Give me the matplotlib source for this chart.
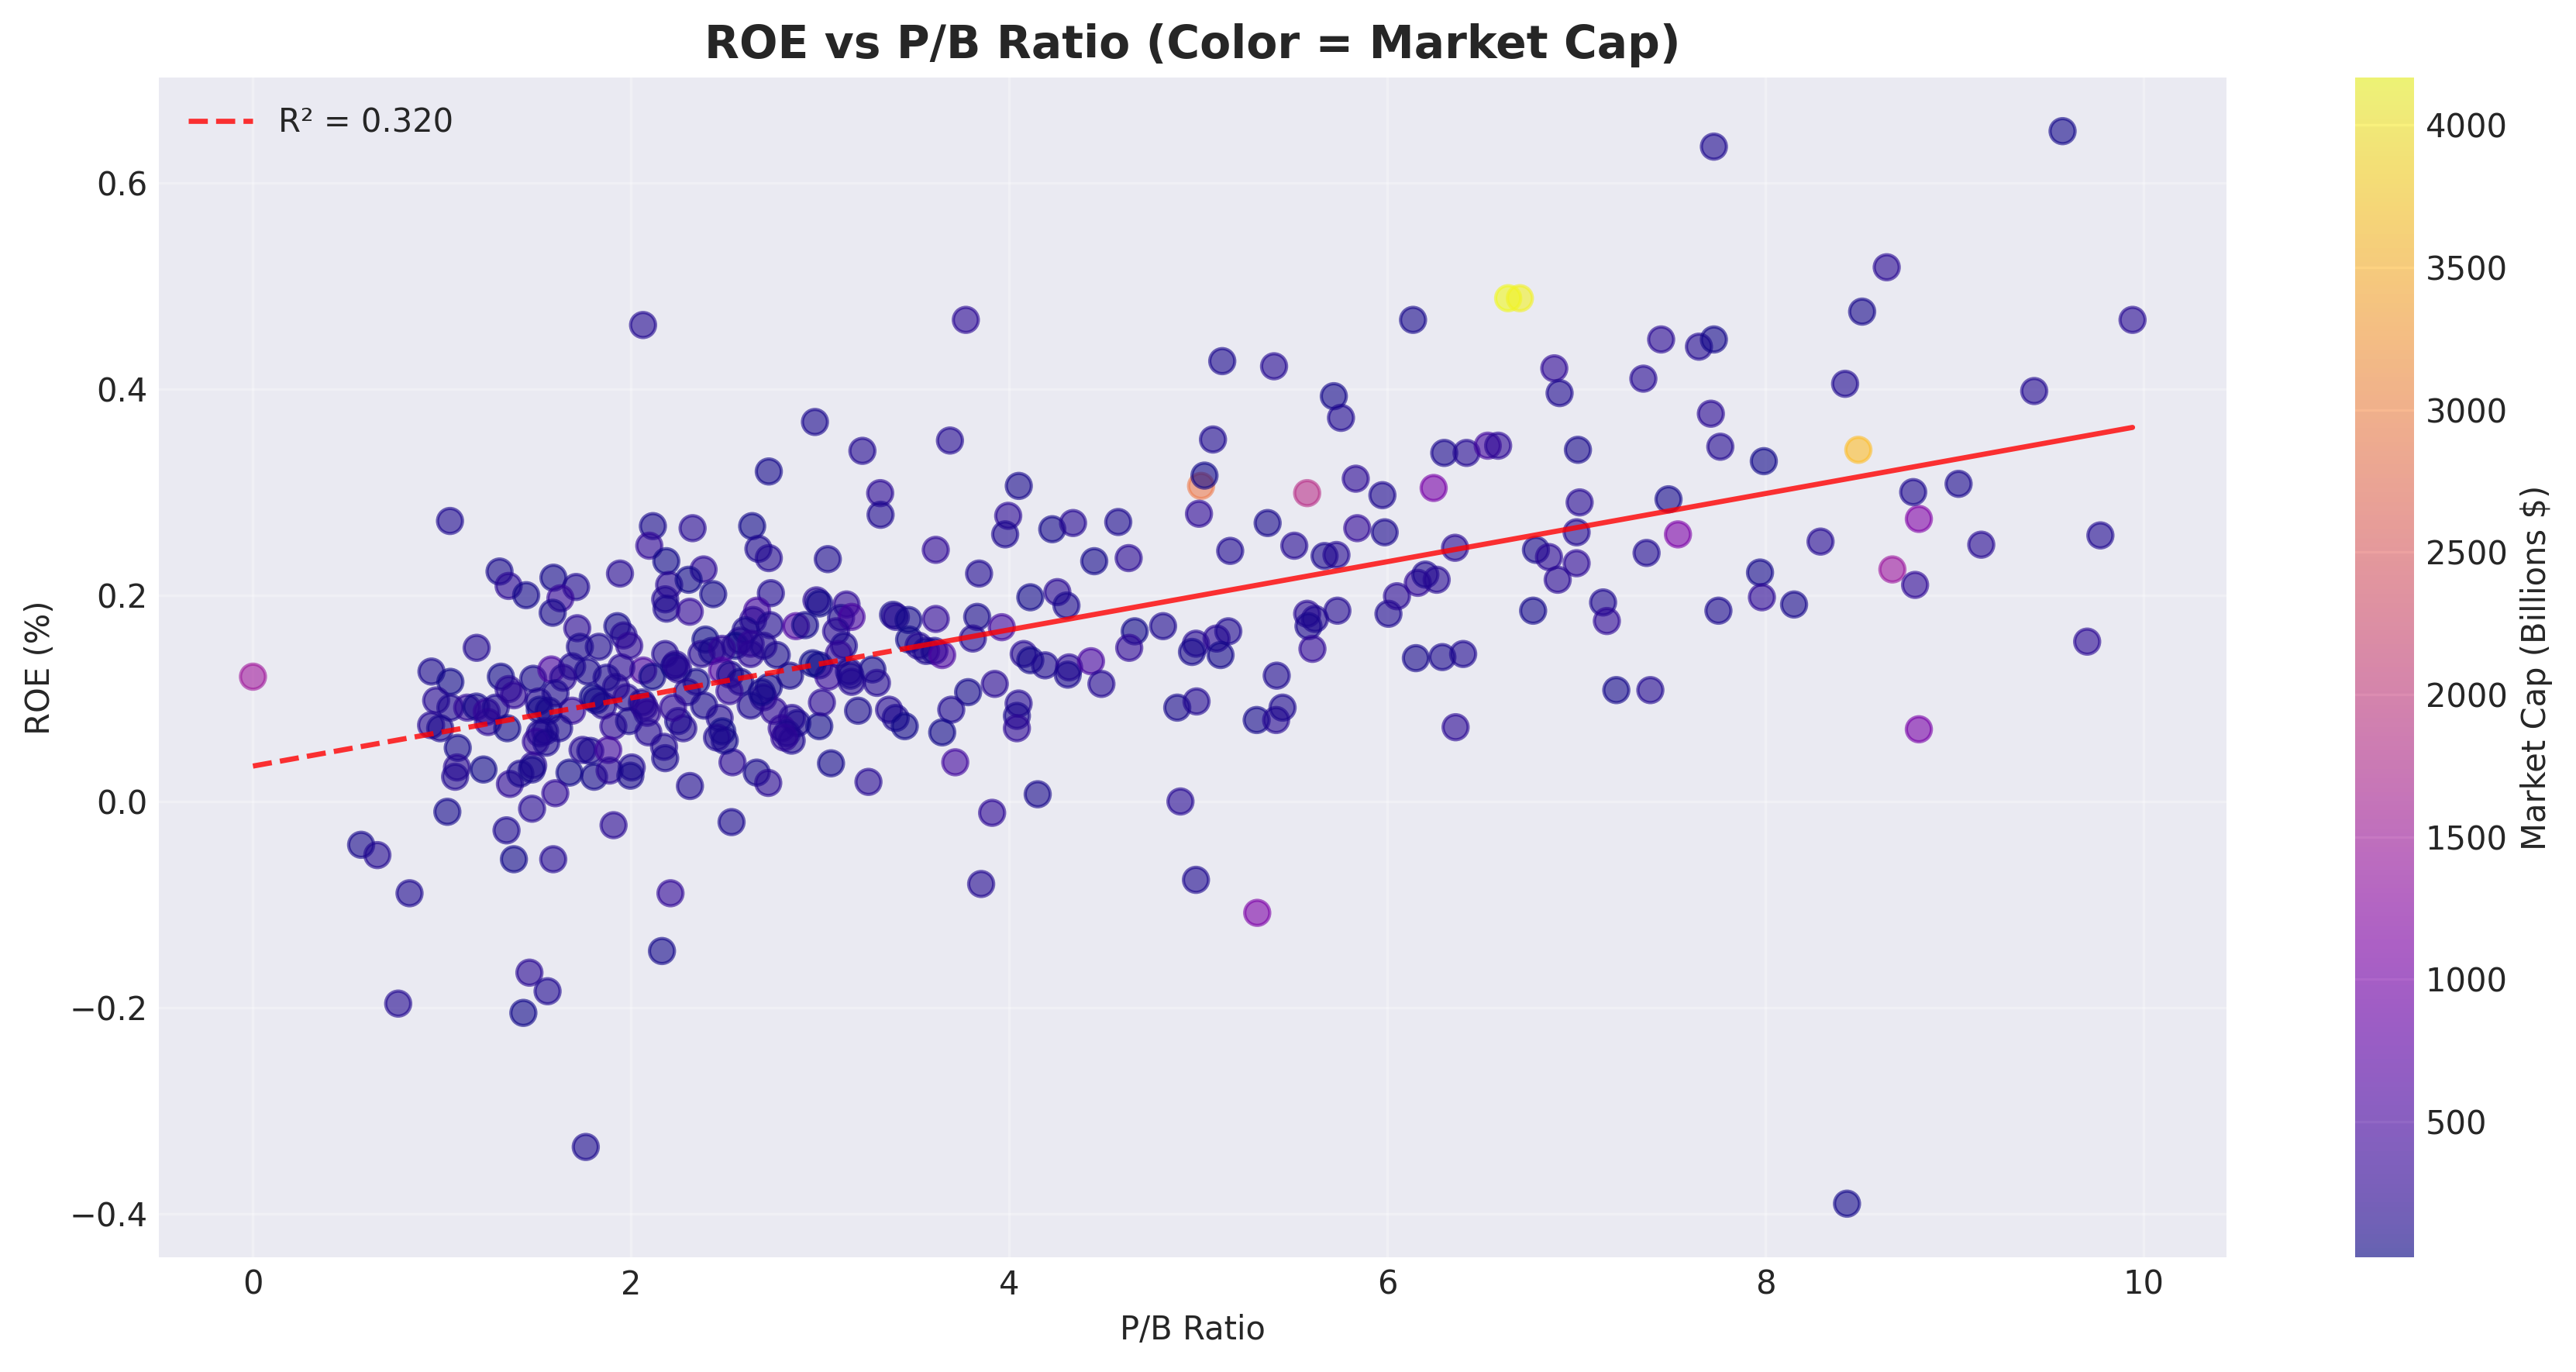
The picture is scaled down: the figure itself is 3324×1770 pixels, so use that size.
import numpy as np
import matplotlib.pyplot as plt

plt.style.use('seaborn-v0_8-darkgrid')
plt.rcParams['font.family'] = ['DejaVu Sans']

# companies with a visibly larger market cap (coloured dots)
big_pb = [0.000, 5.014, 5.575, 6.244, 6.638, 6.700, 7.536, 8.490, 8.670, 8.810, 8.810, 5.311]
big_roe = [0.121, 0.306, 0.299, 0.304, 0.488, 0.488, 0.259, 0.341, 0.225, 0.274, 0.070, -0.108]
big_cap = [1450, 2850, 1800, 1000, 4167, 4100, 1050, 3600, 1400, 1100, 1000, 1050]

# left edge of the cloud
left_pb = [1.042, 1.304, 1.352, 1.445, 1.183, 0.944, 1.044, 0.969, 1.044, 1.133,
           1.181, 1.236, 1.284, 1.311, 1.352, 1.380, 1.482, 1.510, 1.517, 0.942,
           0.990, 1.243, 1.345, 1.517]
left_roe = [0.272, 0.223, 0.209, 0.200, 0.149, 0.126, 0.116, 0.098, 0.091, 0.091,
            0.092, 0.087, 0.091, 0.121, 0.109, 0.103, 0.119, 0.097, 0.089, 0.074,
            0.071, 0.077, 0.071, 0.066]
left_cap = [120, 80, 210, 60, 150, 95, 40, 180, 130, 260,
            70, 310, 110, 55, 190, 240, 85, 140, 65, 170,
            100, 230, 45, 125]

# dense core, P/B 1.5 - 3.6
core_pb = [2.972, 3.223, 2.728, 3.317, 3.319, 2.115, 2.325, 2.640, 2.096, 2.673,
           2.728, 2.186, 2.383, 3.040, 1.941, 1.589, 1.709, 1.626, 1.585, 2.201,
           2.304, 2.180, 2.187, 2.310, 2.434, 2.739, 2.980, 2.995, 3.139, 3.110,
           3.166, 3.385, 3.400, 3.467, 2.666, 2.645, 2.605, 2.577, 2.550, 2.632,
           2.735, 2.872, 2.920, 3.084, 3.125, 3.098, 3.470, 3.520, 3.560, 1.715,
           1.927, 1.960, 1.990, 1.729, 1.829, 2.393, 2.372, 2.427, 2.481, 2.180,
           2.228, 2.249, 2.481, 2.523, 2.632, 2.770, 2.700, 2.995, 3.043, 3.152,
           3.166, 3.276, 1.578, 1.688, 1.770, 2.064, 1.948, 2.112, 1.975, 2.057,
           2.085, 2.345, 2.297, 2.386, 1.920, 1.797, 1.852, 1.688, 1.564, 1.545,
           2.728, 2.700, 2.632, 2.755, 2.577, 2.468, 2.482, 2.851, 2.879, 2.796,
           2.824, 2.995, 3.009, 3.200, 3.364, 3.399, 3.447, 1.906, 1.989, 2.091,
           2.249, 2.276, 2.221, 1.619, 2.235, 1.815, 2.070, 3.160, 2.960, 1.640,
           1.600, 2.520, 2.840, 3.300, 1.870, 2.690, 2.063]
core_roe = [0.368, 0.340, 0.320, 0.299, 0.278, 0.267, 0.265, 0.267, 0.248, 0.245,
            0.236, 0.233, 0.225, 0.235, 0.221, 0.217, 0.208, 0.197, 0.183, 0.210,
            0.215, 0.196, 0.187, 0.184, 0.201, 0.202, 0.195, 0.192, 0.191, 0.178,
            0.179, 0.181, 0.179, 0.176, 0.185, 0.176, 0.166, 0.156, 0.151, 0.153,
            0.171, 0.170, 0.171, 0.165, 0.151, 0.143, 0.157, 0.151, 0.146, 0.168,
            0.170, 0.161, 0.151, 0.150, 0.150, 0.157, 0.143, 0.146, 0.148, 0.143,
            0.131, 0.128, 0.127, 0.123, 0.143, 0.142, 0.151, 0.132, 0.121, 0.126,
            0.116, 0.128, 0.128, 0.131, 0.126, 0.127, 0.130, 0.121, 0.101, 0.096,
            0.086, 0.116, 0.106, 0.093, 0.111, 0.101, 0.093, 0.088, 0.088, 0.068,
            0.111, 0.101, 0.093, 0.088, 0.116, 0.081, 0.068, 0.081, 0.076, 0.071,
            0.066, 0.073, 0.096, 0.088, 0.089, 0.081, 0.073, 0.073, 0.078, 0.067,
            0.078, 0.071, 0.091, 0.071, 0.133, 0.098, 0.092, 0.122, 0.134, 0.120,
            0.105, 0.107, 0.122, 0.115, 0.120, 0.106, 0.462]
core_cap = [90, 150, 60, 210, 120, 75, 180, 40, 260, 110,
            140, 55, 230, 95, 170, 65, 125, 300, 85, 200,
            45, 160, 105, 280, 70, 135, 190, 50, 240, 115,
            480, 80, 165, 60, 430, 220, 100, 145, 35, 255,
            130, 550, 70, 185, 95, 275, 50, 160, 110, 205,
            65, 150, 240, 90, 120, 30, 175, 85, 260, 140,
            55, 195, 560, 100, 230, 75, 150, 45, 310, 120,
            180, 60, 520, 135, 90, 500, 215, 50, 165, 105,
            245, 70, 140, 95, 200, 40, 155, 285, 80, 125,
            60, 190, 110, 235, 75, 150, 23, 170, 95, 260,
            130, 55, 205, 85, 160, 115, 45, 240, 100, 180,
            70, 145, 260, 90, 175, 60, 210, 125, 35, 185,
            105, 250, 80, 155, 120, 65, 140]

# low / negative ROE band
low_pb = [2.311, 1.083, 1.079, 1.069, 1.219, 1.359, 1.414, 1.482, 1.475, 1.496,
          1.551, 1.674, 1.743, 1.784, 1.879, 1.804, 1.886, 2.003, 1.996, 2.174,
          2.180, 1.599, 1.028, 1.476, 1.341, 1.907, 0.572, 0.658, 1.380, 1.588,
          0.828, 2.208, 2.163, 1.462, 1.558, 1.430, 0.768, 1.760, 2.536, 2.495,
          2.454, 2.664, 2.725, 2.849, 2.810, 3.057, 3.255, 3.714, 2.531, 3.909,
          3.851, 4.150, 4.905, 4.987, 8.430]
low_roe = [0.015, 0.052, 0.033, 0.024, 0.031, 0.017, 0.027, 0.035, 0.031, 0.058,
           0.057, 0.028, 0.050, 0.049, 0.050, 0.024, 0.030, 0.033, 0.025, 0.053,
           0.042, 0.008, -0.010, -0.007, -0.028, -0.023, -0.042, -0.052, -0.056, -0.056,
           -0.089, -0.089, -0.145, -0.166, -0.184, -0.205, -0.196, -0.335, 0.038, 0.059,
           0.062, 0.028, 0.018, 0.059, 0.062, 0.037, 0.019, 0.038, -0.020, -0.011,
           -0.080, 0.007, 0.000, -0.076, -0.390]
low_cap = [110, 70, 190, 140, 55, 230, 95, 160, 85, 270,
           120, 45, 180, 100, 400, 65, 215, 130, 75, 150,
           90, 240, 60, 175, 115, 200, 80, 140, 50, 165,
           105, 255, 70, 185, 125, 40, 150, 95, 210, 60,
           135, 80, 195, 110, 245, 65, 170, 420, 90, 220,
           140, 75, 180, 115, 60]

# middle, P/B 3.6 - 5.6
mid_pb = [3.686, 4.050, 3.994, 3.978, 4.227, 4.337, 4.576, 3.611, 3.840, 4.449,
          4.631, 5.077, 5.032, 5.003, 5.366, 5.507, 5.168, 4.111, 4.254, 4.302,
          3.611, 3.830, 3.960, 3.807, 3.604, 3.645, 4.076, 4.111, 4.189, 4.316,
          4.309, 4.432, 4.487, 4.663, 4.634, 4.813, 4.987, 4.966, 5.096, 5.158,
          5.117, 5.575, 5.616, 5.582, 5.603, 5.414, 3.782, 3.923, 3.693, 3.645,
          4.049, 4.040, 4.040, 4.888, 4.990, 5.308, 5.411, 5.445, 3.770, 5.126,
          5.400]
mid_roe = [0.350, 0.306, 0.277, 0.259, 0.264, 0.270, 0.271, 0.244, 0.221, 0.233,
           0.236, 0.351, 0.316, 0.279, 0.270, 0.248, 0.243, 0.198, 0.203, 0.190,
           0.177, 0.179, 0.169, 0.158, 0.146, 0.142, 0.143, 0.137, 0.132, 0.130,
           0.123, 0.136, 0.114, 0.165, 0.149, 0.170, 0.153, 0.145, 0.158, 0.165,
           0.142, 0.182, 0.177, 0.170, 0.148, 0.122, 0.106, 0.114, 0.089, 0.067,
           0.095, 0.083, 0.071, 0.091, 0.097, 0.079, 0.079, 0.091, 0.467, 0.427,
           0.422]
mid_cap = [150, 80, 210, 120, 60, 175, 95, 240, 135, 70,
           190, 110, 55, 225, 85, 160, 130, 45, 200, 100,
           260, 75, 420, 140, 90, 520, 180, 65, 120, 215,
           95, 480, 155, 50, 235, 110, 170, 80, 205, 125,
           60, 185, 140, 90, 250, 115, 70, 195, 130, 45,
           165, 100, 220, 75, 145, 60, 180, 120, 210, 90,
           155]

# right side, P/B > 5.6
right_pb = [7.726, 6.135, 7.447, 7.647, 7.726, 6.882, 6.910, 7.353, 5.716, 5.754,
            7.710, 6.300, 6.418, 6.530, 6.585, 7.007, 7.760, 7.990, 5.832, 5.973,
            7.016, 7.486, 5.840, 5.985, 7.000, 6.357, 6.785, 6.854, 7.370, 5.667,
            5.730, 7.000, 7.970, 5.735, 6.005, 6.050, 6.150, 6.160, 6.200, 6.260,
            6.290, 6.360, 6.400, 6.770, 6.900, 7.140, 7.160, 7.210, 7.390, 7.750,
            7.980, 8.150, 8.290, 8.420, 8.510, 8.640, 8.780, 8.790, 9.020, 9.140,
            9.420, 9.570, 9.700, 9.770, 9.940]
right_roe = [0.635, 0.467, 0.448, 0.441, 0.448, 0.420, 0.396, 0.410, 0.393, 0.372,
             0.376, 0.338, 0.338, 0.345, 0.345, 0.341, 0.344, 0.330, 0.313, 0.297,
             0.290, 0.293, 0.265, 0.261, 0.261, 0.246, 0.244, 0.237, 0.241, 0.238,
             0.239, 0.231, 0.222, 0.185, 0.182, 0.199, 0.139, 0.212, 0.220, 0.215,
             0.140, 0.072, 0.143, 0.185, 0.215, 0.193, 0.175, 0.108, 0.108, 0.185,
             0.198, 0.191, 0.252, 0.405, 0.475, 0.518, 0.300, 0.210, 0.308, 0.249,
             0.398, 0.650, 0.155, 0.258, 0.467]
right_cap = [120, 85, 200, 150, 60, 240, 110, 175, 70, 135,
             190, 95, 160, 420, 225, 80, 145, 55, 210, 115,
             170, 65, 250, 100, 140, 185, 75, 215, 125, 90,
             160, 230, 60, 145, 105, 195, 80, 265, 120, 175,
             90, 210, 135, 70, 185, 115, 245, 60, 150, 100,
             220, 85, 165, 130, 75, 200, 110, 240, 95, 180,
             140, 60, 205, 125, 170]

R2_REPORTED = 0.320
SOLID_FROM = 3.5   # the fitted line looks solid from here on in the original

pb = np.concatenate([big_pb, left_pb, core_pb, low_pb, mid_pb, right_pb])
roe = np.concatenate([big_roe, left_roe, core_roe, low_roe, mid_roe, right_roe])
cap = np.concatenate([big_cap, left_cap, core_cap, low_cap, mid_cap, right_cap])

fig = plt.figure(figsize=(11.083, 5.9), dpi=300)
ax = fig.add_axes([0.0617, 0.0836, 0.8024, 0.8599])
cax = fig.add_axes([0.914, 0.0836, 0.0229, 0.8599])

sc = ax.scatter(pb, roe, c=cap, cmap='plasma', s=60, alpha=0.6)

coef = np.polyfit(pb, roe, 1)
trend = np.poly1d(coef)
xs = np.sort(pb)
dash_x = xs[xs <= SOLID_FROM]
solid_x = xs[xs >= dash_x[-1]]
ax.plot(dash_x, trend(dash_x), 'r--', lw=1.6, alpha=0.8, label=f'R² = {R2_REPORTED:.3f}')
ax.plot(solid_x, trend(solid_x), 'r-', lw=1.6, alpha=0.8)

ax.set_title('ROE vs P/B Ratio (Color = Market Cap)', fontsize=14, fontweight='bold')
ax.set_xlabel('P/B Ratio', fontsize=10)
ax.set_ylabel('ROE (%)', fontsize=10)
ax.legend(loc='upper left', fontsize=10)
ax.grid(True, alpha=0.3)

cb = fig.colorbar(sc, cax=cax)
cb.set_label('Market Cap (Billions $)', fontsize=10)

fig.savefig('out.png', dpi=300)
